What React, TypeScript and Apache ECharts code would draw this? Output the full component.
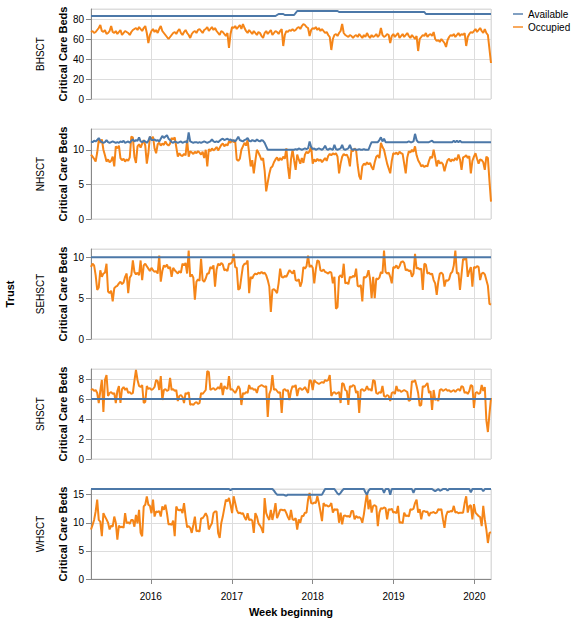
import { useEffect, useRef } from "react";
import * as echarts from "echarts";

// weekly data, weeks beginning Monday 2015-04-06 ... 2020-03-16
const firstWeek = Date.UTC(2015, 3, 6);
const lastWeek = Date.UTC(2020, 2, 16);
const weekMs = 7 * 24 * 3600 * 1000;

const trusts = ["BHSCT", "NHSCT", "SEHSCT", "SHSCT", "WHSCT"];
const yearTicks = [2016, 2017, 2018, 2019, 2020];
const yMax = [90, 13, 11, 9, 16];
const yStep = [20, 5, 5, 2, 5];
const yTicks = [
  [0, 20, 40, 60, 80],
  [0, 5, 10],
  [0, 5, 10],
  [0, 2, 4, 6, 8],
  [0, 5, 10, 15],
];

const bhsctAvailable = [
  83, 83, 83, 83, 83, 83, 83, 83, 83, 83,
  83, 83, 83, 83, 83, 83, 83, 83, 83, 83,
  83, 83, 83, 83, 83, 83, 83, 83, 83, 83,
  83, 83, 83, 83, 83, 83, 83, 83, 83, 83,
  83, 83, 83, 83, 83, 83, 83, 83, 83, 83,
  83, 83, 83, 83, 83, 83, 83, 83, 83, 83,
  83, 83, 83, 83, 83, 83, 83, 83, 83, 83,
  83, 83, 83, 83, 83, 83, 83, 83, 83, 83,
  83, 83, 83, 83, 83, 83, 83, 83, 83, 83,
  83, 83, 83, 83, 83, 83, 83, 83, 83, 83,
  83, 83, 83, 83, 83, 83, 83, 83, 83, 83,
  83, 83, 83, 83, 83, 83, 83, 83, 83, 83,
  84, 85, 85, 85, 85, 84, 84, 84, 84, 84,
  84, 84, 86, 88, 88, 88, 88, 88, 88, 88,
  88, 88, 88, 88, 88, 88, 88, 88, 88, 88,
  88, 88, 88, 88, 88, 88, 88, 88, 88, 88,
  87, 87, 87, 87, 87, 87, 87, 87, 87, 87,
  87, 87, 87, 87, 87, 87, 87, 87, 87, 87,
  87, 87, 87, 87, 87, 87, 87, 87, 87, 87,
  87, 87, 87, 87, 87, 87, 87, 87, 87, 87,
  87, 87, 87, 87, 87, 87, 87, 87, 87, 87,
  87, 87, 87, 87, 87, 87, 85, 85, 85, 85,
  85, 85, 85, 85, 85, 85, 85, 85, 85, 85,
  85, 85, 85, 85, 85, 85, 85, 85, 85, 85,
  85, 85, 85, 85, 85, 85, 85, 85, 85, 85,
  85, 85, 85, 85, 85, 85, 85, 85, 85,
];

const bhsctOccupied = [
  67, 68, 66, 67, 69, 71, 74, 68, 67, 69,
  65, 66, 68, 73, 67, 66, 68, 65, 67, 69,
  64, 66, 68, 67, 66, 64, 67, 69, 70, 71,
  69, 72, 70, 68, 71, 73, 66, 56, 64, 68,
  70, 67, 69, 66, 70, 73, 68, 66, 64, 62,
  60, 62, 64, 66, 67, 65, 68, 70, 66, 64,
  67, 69, 66, 64, 61, 65, 67, 68, 66, 69,
  70, 68, 66, 69, 70, 72, 68, 70, 72, 69,
  71, 68, 66, 64, 68, 67, 65, 63, 66, 51,
  65, 72, 71, 73, 70, 72, 74, 70, 75, 71,
  68, 66, 69, 67, 65, 68, 66, 64, 67, 66,
  63, 61, 66, 68, 65, 67, 69, 64, 66, 68,
  67, 65, 68, 70, 53, 64, 68, 67, 69, 68,
  70, 68, 69, 71, 72, 70, 73, 75, 74, 72,
  71, 63, 69, 71, 70, 72, 69, 71, 68, 70,
  68, 66, 67, 64, 62, 49, 60, 64, 65, 63,
  66, 68, 75, 66, 64, 63, 62, 64, 63, 61,
  63, 64, 62, 65, 63, 61, 64, 62, 66, 63,
  61, 64, 62, 63, 65, 62, 64, 71, 64, 62,
  63, 65, 64, 56, 63, 65, 62, 64, 66, 61,
  63, 65, 62, 64, 66, 63, 61, 64, 62, 60,
  63, 48, 60, 62, 64, 63, 66, 62, 64, 65,
  63, 67, 60, 58, 59, 57, 60, 58, 56, 52,
  59, 62, 64, 63, 65, 62, 64, 66, 63, 65,
  64, 66, 53, 62, 65, 67, 66, 68, 70, 67,
  69, 71, 68, 66, 70, 66, 64, 50, 36,
];

const nhsctAvailable = [
  11.2, 11.1, 11.3, 11.2, 11.4, 11.7, 11.3, 11.1, 11.0, 11.1,
  11.4, 11.1, 11.0, 11.1, 11.2, 11.1, 11.0, 11.1, 11.0, 11.2,
  11.1, 11.3, 11.0, 11.1, 11.2, 11.0, 11.3, 11.5, 11.2, 11.4,
  11.3, 11.8, 11.2, 11.1, 11.3, 11.2, 11.0, 11.3, 11.9, 11.4,
  11.4, 11.5, 11.3, 11.4, 11.2, 11.6, 12.0, 11.7, 11.9, 12.1,
  11.6, 11.4, 11.1, 11.0, 11.2, 11.1, 11.0, 11.1, 11.2, 11.0,
  11.1, 11.2, 11.0, 12.5, 11.2, 11.1, 11.0, 11.1, 11.1, 11.0,
  11.1, 11.0, 11.1, 11.2, 11.1, 11.0, 11.1, 11.2, 11.5, 11.2,
  11.1, 11.2, 11.1, 11.3, 11.5, 11.6, 11.4, 11.5, 11.6, 11.4,
  11.5, 11.3, 11.4, 11.2, 11.5, 11.9, 11.4, 11.3, 11.2, 11.4,
  11.5, 11.7, 11.3, 11.2, 11.4, 11.3, 11.2, 11.5, 11.3, 11.2,
  11.4, 11.3, 11.0, 10.5, 10.0, 10.0, 10.0, 10.0, 10.0, 10.0,
  10.0, 10.0, 10.0, 10.0, 10.0, 10.0, 10.0, 10.0, 10.0, 10.0,
  10.0, 10.0, 10.1, 10.0, 10.2, 10.1, 10.0, 10.1, 10.2, 10.1,
  10.2, 11.2, 10.4, 10.1, 10.2, 10.0, 10.1, 10.2, 10.1, 10.0,
  10.2, 10.6, 10.1, 10.0, 10.2, 10.1, 10.0, 10.7, 10.1, 10.0,
  10.1, 10.2, 10.7, 10.1, 10.0, 10.1, 10.2, 10.7, 10.1, 10.0,
  10.1, 10.0, 10.0, 10.1, 10.0, 10.0, 10.1, 10.0, 10.0, 10.0,
  10.6, 11.1, 11.1, 11.1, 11.1, 11.1, 11.4, 11.8, 11.2, 11.6,
  11.1, 11.1, 11.1, 11.1, 11.1, 11.1, 11.1, 11.1, 11.1, 11.1,
  11.1, 11.1, 11.1, 11.1, 11.1, 11.2, 11.1, 11.1, 11.2, 12.3,
  11.4, 11.1, 11.1, 11.1, 11.1, 11.1, 11.1, 11.1, 11.1, 11.2,
  11.3, 11.1, 11.1, 11.1, 11.1, 11.1, 11.1, 11.1, 11.1, 11.1,
  11.1, 11.1, 11.1, 11.1, 11.3, 11.1, 11.3, 11.1, 11.3, 11.1,
  11.1, 11.1, 11.1, 11.1, 11.1, 11.1, 11.1, 11.1, 11.1, 11.1,
  11.1, 11.1, 11.1, 11.1, 11.1, 11.1, 11.1, 11.1, 11.1,
];

const nhsctOccupied = [
  9.3, 9.0, 8.7, 8.3, 9.6, 11.4, 11.0, 11.5, 10.0, 9.2,
  8.3, 8.6, 8.2, 8.4, 9.0, 7.6, 10.5, 10.2, 10.6, 8.8,
  8.5, 8.7, 8.3, 8.6, 8.4, 8.9, 11.9, 11.8, 9.0, 8.1,
  10.5, 10.8, 10.3, 10.9, 11.4, 10.6, 8.0, 9.5, 11.9, 11.5,
  11.9, 10.2, 9.5, 10.8, 11.0, 10.6, 10.9, 10.7, 11.2, 10.8,
  10.6, 10.9, 11.7, 11.5, 11.8, 10.4, 9.0, 9.5, 9.2, 9.1,
  9.4, 9.2, 11.4, 9.0, 9.8, 9.6, 9.4, 9.7, 9.5, 9.8,
  9.6, 9.3, 9.7, 8.8, 10.0, 7.6, 10.1, 9.8, 10.2, 9.9,
  10.1, 10.4, 9.9, 10.3, 10.7, 10.9, 10.5, 10.8, 10.6, 11.2,
  11.0, 11.4, 11.1, 11.3, 8.6, 8.4, 8.7, 10.0, 10.5, 11.0,
  10.6, 11.4, 9.5, 7.6, 8.5, 6.6, 8.4, 10.0, 9.6, 9.1,
  8.5, 8.8, 7.0, 4.0, 5.3, 6.5, 7.4, 7.6, 8.2, 8.6,
  8.9, 8.4, 8.8, 8.5, 9.0, 8.7, 10.2, 7.6, 5.8, 8.6,
  10.0, 8.5, 7.1, 9.3, 8.6, 8.0, 8.8, 8.1, 9.3, 9.7,
  9.5, 9.8, 10.5, 8.0, 8.6, 8.3, 8.7, 8.4, 8.6, 8.2,
  8.5, 8.8, 8.4, 9.1, 9.4, 9.2, 9.5, 9.3, 9.5, 9.0,
  6.6, 8.0, 9.0, 9.4, 9.2, 9.3, 8.8, 7.6, 10.0, 9.8,
  10.2, 9.9, 7.8, 6.2, 5.7, 7.6, 8.0, 7.8, 8.2, 7.9,
  8.1, 7.5, 7.1, 8.2, 9.0, 9.2, 8.8, 11.0, 10.4, 10.0,
  9.0, 8.0, 7.3, 6.6, 8.4, 9.5, 9.4, 9.6, 9.3, 9.7,
  9.5, 9.4, 8.0, 6.6, 8.9, 9.8, 9.6, 10.0, 9.7, 10.5,
  9.2, 8.5, 8.1, 7.6, 7.8, 7.5, 7.7, 7.6, 8.4, 9.0,
  8.8, 10.0, 8.9, 7.6, 8.5, 8.0, 8.2, 7.9, 6.9, 7.8,
  8.5, 8.7, 8.3, 8.6, 8.4, 8.8, 8.5, 9.3, 8.6, 7.1,
  8.9, 9.0, 9.2, 8.8, 9.1, 6.6, 8.4, 9.0, 9.5, 8.7,
  8.0, 8.6, 8.5, 8.2, 7.1, 9.0, 8.8, 5.5, 2.5,
];

const sehsctAvailable = [
  10, 10, 10, 10, 10, 10, 10, 10, 10, 10,
  10, 10, 10, 10, 10, 10, 10, 10, 10, 10,
  10, 10, 10, 10, 10, 10, 10, 10, 10, 10,
  10, 10, 10, 10, 10, 10, 10, 10, 10, 10,
  10, 10, 10, 10, 10, 10, 10, 10, 10, 10,
  10, 10, 10, 10, 10, 10, 10, 10, 10, 10,
  10, 10, 10, 10, 10, 10, 10, 10, 10, 10,
  10, 10, 10, 10, 10, 10, 10, 10, 10, 10,
  10, 10, 10, 10, 10, 10, 10, 10, 10, 10,
  10, 10, 10, 10, 10, 10, 10, 10, 10, 10,
  10, 10, 10, 10, 10, 10, 10, 10, 10, 10,
  10, 10, 10, 10, 10, 10, 10, 10, 10, 10,
  10, 10, 10, 10, 10, 10, 10, 10, 10, 10,
  10, 10, 10, 10, 10, 10, 10, 10, 10, 10,
  10, 10, 10, 10, 10, 10, 10, 10, 10, 10,
  10, 10, 10, 10, 10, 10, 10, 10, 10, 10,
  10, 10, 10, 10, 10, 10, 10, 10, 10, 10,
  10, 10, 10, 10, 10, 10, 10, 10, 10, 10,
  10, 10, 10, 10, 10, 10, 10, 10, 10, 10,
  10, 10, 10, 10, 10, 10, 10, 10, 10, 10,
  10, 10, 10, 10, 10, 10, 10, 10, 10, 10,
  10, 10, 10, 10, 10, 10, 10, 10, 10, 10,
  10, 10, 10, 10, 10, 10, 10, 10, 10, 10,
  10, 10, 10, 10, 10, 10, 10, 10, 10, 10,
  10, 10, 10, 10, 10, 10, 10, 10, 10, 10,
  10, 10, 10, 10, 10, 10, 10, 10, 10,
];

const sehsctOccupied = [
  8.8, 9.2, 9.0, 7.8, 6.0, 6.3, 8.4, 7.6, 8.0, 8.1,
  9.2, 5.8, 5.6, 5.9, 4.6, 6.2, 6.4, 6.5, 6.8, 7.0,
  6.7, 6.9, 7.6, 8.0, 5.6, 7.5, 7.8, 9.6, 8.2, 7.9,
  8.1, 7.8, 9.6, 7.2, 9.0, 9.2, 8.9, 8.6, 8.3, 8.7,
  8.4, 8.2, 8.3, 8.0, 10.2, 7.0, 8.3, 9.0, 8.8, 9.1,
  8.6, 8.8, 7.6, 8.7, 8.4, 8.2, 8.0, 8.3, 8.1, 9.2,
  9.0, 9.3, 8.0, 10.8, 7.6, 7.9, 7.5, 4.8, 7.0, 7.3,
  7.1, 9.8, 7.2, 7.0, 7.4, 8.0, 8.0, 8.8, 8.6, 9.0,
  6.4, 8.5, 9.2, 9.0, 9.3, 9.1, 8.4, 8.5, 8.3, 9.2,
  9.2, 9.4, 10.4, 8.8, 8.7, 6.0, 6.2, 7.6, 8.9, 9.2,
  9.2, 9.6, 5.6, 7.6, 7.4, 7.8, 8.0, 7.9, 8.1, 8.0,
  8.2, 8.0, 8.1, 7.8, 7.2, 6.4, 3.3, 6.0, 6.1, 5.9,
  5.6, 6.8, 8.6, 7.6, 7.5, 7.7, 7.6, 8.0, 8.4, 8.2,
  8.0, 8.4, 7.2, 7.1, 7.3, 6.4, 7.0, 8.8, 8.6, 8.9,
  10.2, 8.8, 9.0, 8.7, 6.8, 8.5, 9.6, 9.5, 8.4, 8.3,
  8.5, 8.2, 8.1, 8.0, 8.2, 8.1, 6.8, 7.6, 3.7, 3.9,
  7.6, 7.8, 7.5, 9.2, 6.8, 6.9, 6.7, 7.6, 7.5, 7.7,
  7.6, 8.6, 6.5, 6.4, 6.6, 4.6, 7.6, 7.5, 7.7, 8.4,
  7.3, 5.0, 7.6, 5.0, 7.4, 7.3, 7.5, 8.2, 8.0, 10.8,
  8.2, 8.0, 8.1, 7.6, 6.8, 8.8, 8.7, 9.0, 8.6, 8.9,
  9.4, 9.5, 9.3, 8.4, 8.5, 8.3, 8.4, 7.6, 8.0, 10.4,
  8.6, 8.7, 8.5, 8.6, 6.0, 9.2, 9.1, 8.0, 8.1, 7.9,
  8.0, 7.2, 6.8, 5.4, 7.0, 8.0, 8.1, 7.9, 6.4, 7.2,
  7.1, 7.3, 8.0, 8.2, 9.0, 10.8, 8.0, 8.1, 6.0, 7.9,
  9.8, 9.7, 9.9, 7.6, 8.3, 8.8, 6.4, 8.8, 8.7, 8.9,
  8.8, 7.2, 8.0, 8.1, 7.9, 7.2, 6.5, 4.3, 4.2,
];

const shsctAvailable = [
  6, 6, 6, 6, 6, 6, 6, 6, 6, 6,
  6, 6, 6, 6, 6, 6, 6, 6, 6, 6,
  6, 6, 6, 6, 6, 6, 6, 6, 6, 6,
  6, 6, 6, 6, 6, 6, 6, 6, 6, 6,
  6, 6, 6, 6, 6, 6, 6, 6, 6, 6,
  6, 6, 6, 6, 6, 6, 6, 6, 6, 6,
  6, 6, 6, 6, 6, 6, 6, 6, 6, 6,
  6, 6, 6, 6, 6, 6, 6, 6, 6, 6,
  6, 6, 6, 6, 6, 6, 6, 6, 6, 6,
  6, 6, 6, 6, 6, 6, 6, 6, 6, 6,
  6, 6, 6, 6, 6, 6, 6, 6, 6, 6,
  6, 6, 6, 6, 6, 6, 6, 6, 6, 6,
  6, 6, 6, 6, 6, 6, 6, 6, 6, 6,
  6, 6, 6, 6, 6, 6, 6, 6, 6, 6,
  6, 6, 6, 6, 6, 6, 6, 6, 6, 6,
  6, 6, 6, 6, 6, 6, 6, 6, 6, 6,
  6, 6, 6, 6, 6, 6, 6, 6, 6, 6,
  6, 6, 6, 6, 6, 6, 6, 6, 6, 6,
  6, 6, 6, 6, 6, 6, 6, 6, 6, 6,
  6, 6, 6, 6, 6, 6, 6, 6, 6, 6,
  6, 6, 6, 6, 6, 6, 6, 6, 6, 6,
  6, 6, 6, 6, 6, 6, 6, 6, 6, 6,
  6, 6, 6, 6, 6, 6, 6, 6, 6, 6,
  6, 6, 6, 6, 6, 6, 6, 6, 6, 6,
  6, 6, 6, 6, 6, 6, 6, 6, 6, 6,
  6, 6, 6, 6, 6, 6, 6, 6, 6,
];

const shsctOccupied = [
  6.9, 7.0, 6.8, 6.9, 6.6, 5.6, 6.8, 7.9, 4.7, 7.9,
  8.4, 6.3, 6.6, 6.7, 6.5, 6.6, 5.6, 6.8, 7.3, 5.6,
  7.0, 7.2, 6.9, 7.1, 6.6, 6.7, 6.5, 6.6, 7.8, 8.9,
  7.9, 7.3, 7.2, 7.4, 5.6, 5.7, 7.3, 7.0, 7.1, 6.9,
  7.0, 7.2, 7.9, 7.8, 6.9, 8.3, 5.9, 6.9, 7.0, 6.8,
  6.9, 8.1, 6.9, 7.0, 6.8, 6.9, 5.8, 6.3, 6.4, 6.2,
  5.6, 6.6, 6.5, 6.7, 5.4, 5.5, 5.4, 5.6, 5.7, 5.5,
  5.6, 6.6, 6.5, 6.7, 6.9, 8.8, 8.7, 6.9, 7.0, 7.1,
  6.9, 7.0, 7.2, 7.0, 7.6, 6.4, 7.3, 7.1, 7.0, 8.3,
  6.9, 7.0, 6.8, 6.6, 6.9, 7.3, 7.0, 5.4, 6.6, 6.5,
  6.7, 6.6, 7.4, 7.0, 7.1, 6.9, 7.0, 6.6, 7.2, 7.3,
  7.4, 7.3, 7.2, 7.3, 4.2, 6.5, 6.9, 8.4, 6.9, 7.0,
  6.8, 6.6, 6.7, 4.6, 6.9, 7.0, 6.8, 6.9, 5.9, 6.8,
  7.3, 7.2, 7.4, 6.3, 7.0, 7.1, 6.9, 7.0, 7.2, 6.9,
  6.6, 7.9, 7.8, 6.9, 7.9, 7.7, 7.6, 7.5, 7.6, 7.7,
  7.6, 7.9, 7.8, 7.9, 8.4, 6.3, 6.6, 6.7, 6.5, 6.6,
  6.7, 5.6, 7.6, 7.5, 6.9, 6.8, 5.4, 7.3, 7.2, 7.4,
  7.3, 6.6, 6.8, 4.6, 6.9, 7.0, 6.8, 6.9, 7.3, 6.9,
  7.0, 6.8, 7.9, 7.8, 6.6, 6.5, 6.7, 6.6, 7.3, 6.3,
  6.2, 6.4, 6.3, 5.8, 6.6, 6.7, 6.5, 7.3, 6.8, 6.9,
  6.7, 6.8, 6.9, 6.8, 6.7, 5.8, 5.9, 7.8, 7.7, 7.9,
  7.3, 6.6, 5.3, 5.4, 7.3, 7.2, 7.4, 7.6, 6.6, 6.8,
  4.9, 6.9, 5.9, 6.0, 5.8, 6.9, 7.0, 6.8, 6.9, 7.0,
  6.8, 6.9, 6.7, 6.8, 6.9, 6.7, 6.9, 7.0, 6.8, 7.3,
  7.2, 6.6, 6.7, 6.5, 6.8, 7.4, 7.3, 5.1, 6.6, 6.7,
  6.5, 6.6, 7.4, 6.8, 7.2, 3.9, 2.7, 4.5, 6.1,
];

const whsctAvailable = [
  16, 16, 16, 16, 16, 16, 16, 16, 16, 16,
  16, 16, 16, 16, 16, 16, 16, 16, 16, 16,
  16, 16, 16, 16, 16, 16, 16, 16, 16, 16,
  16, 16, 16, 16, 16, 16, 16, 16, 16, 16,
  16, 16, 16, 16, 16, 16, 16, 16, 16, 16,
  16, 16, 16, 16, 16, 16, 16, 16, 16, 16,
  16, 16, 16, 16, 16, 16, 16, 16, 16, 16,
  16, 16, 16, 16, 16, 16, 16, 16, 16, 16,
  16, 16, 16, 16, 16, 16, 16, 16, 16, 16,
  15.8, 16, 16, 16, 16, 16, 16, 16, 16, 16,
  16, 16, 16, 16, 16, 16, 16, 16, 16, 16,
  16, 16, 16, 16, 16, 16, 16, 16, 15.7, 15.3,
  15, 15, 15, 15, 15, 14.9, 14.8, 15, 15, 15,
  15, 15, 15, 15, 15, 15, 15, 15, 15, 15,
  15, 15, 15, 15, 15, 15, 15, 15, 15, 15,
  15.5, 16, 16, 16, 16, 16, 16, 16, 15.6, 15.2,
  15, 15.3, 15.7, 16, 16, 16, 16, 16, 16, 16,
  16, 16, 16, 16, 16, 16, 16, 15.4, 15, 15.7,
  16, 16, 16, 16, 16, 16, 16, 16, 16, 15.3,
  16, 16, 16, 15, 16, 16, 16, 16, 16, 16,
  16, 16, 16, 16, 16, 16, 16, 16, 15.3, 16,
  16, 16, 16, 16, 16, 16, 16, 16, 16, 16,
  16, 15.8, 15.6, 15.8, 16, 15.7, 15.8, 16, 16, 16,
  15.7, 16, 16, 16, 16, 16, 16, 16, 16, 16,
  16, 16, 16, 16, 16, 15.4, 16, 16, 16, 16,
  16, 16, 16, 15.6, 16, 16, 16, 16, 16,
];

const whsctOccupied = [
  8.8, 9.6, 10.5, 12.0, 14.1, 10.5, 10.2, 7.6, 11.7, 11.1,
  10.6, 10.0, 8.8, 9.5, 9.3, 11.1, 10.0, 7.0, 9.5, 9.2,
  9.3, 9.1, 11.7, 9.9, 10.1, 9.8, 10.5, 10.5, 9.3, 11.4,
  9.9, 12.3, 8.2, 7.6, 12.9, 13.2, 14.7, 13.2, 13.0, 11.7,
  14.1, 11.1, 12.0, 11.9, 12.1, 11.1, 12.9, 12.3, 13.2, 11.7,
  9.7, 9.8, 9.6, 10.4, 7.6, 12.9, 12.3, 12.2, 12.4, 11.7,
  13.5, 11.1, 9.2, 9.4, 9.1, 8.2, 9.6, 11.1, 8.5, 8.6,
  8.4, 10.8, 10.8, 11.2, 11.7, 11.1, 8.8, 9.4, 9.9, 11.7,
  12.0, 12.0, 8.2, 7.3, 9.9, 11.1, 12.6, 14.1, 13.8, 14.4,
  13.2, 11.7, 14.7, 13.5, 12.3, 11.7, 11.8, 11.6, 11.7, 11.0,
  10.5, 11.7, 10.5, 10.6, 10.4, 8.2, 11.7, 11.1, 9.9, 9.5,
  9.0, 8.2, 14.4, 11.7, 11.0, 10.5, 12.3, 10.5, 11.8, 13.5,
  10.8, 11.5, 12.3, 12.3, 12.2, 12.3, 11.7, 11.0, 10.5, 12.3,
  10.6, 10.5, 10.8, 8.8, 10.6, 10.0, 11.2, 11.2, 11.8, 11.8,
  14.1, 15.3, 13.5, 13.4, 13.6, 13.5, 14.7, 13.5, 12.0, 10.3,
  13.5, 13.0, 13.1, 12.9, 13.0, 13.5, 11.8, 12.4, 12.3, 12.4,
  10.0, 11.8, 9.7, 11.2, 11.3, 11.1, 11.2, 11.0, 12.1, 12.1,
  10.6, 11.2, 10.9, 11.0, 10.8, 10.0, 11.5, 13.5, 15.3, 12.4,
  14.1, 11.8, 13.0, 13.1, 12.9, 9.4, 11.8, 12.6, 12.5, 12.7,
  12.6, 10.6, 12.4, 12.3, 12.5, 11.8, 11.9, 11.7, 13.0, 10.0,
  10.1, 9.9, 11.8, 11.2, 11.3, 11.1, 12.4, 12.3, 12.5, 13.5,
  14.1, 11.8, 12.4, 10.6, 12.0, 12.1, 11.9, 12.0, 11.2, 11.8,
  11.8, 11.9, 11.7, 11.8, 12.4, 12.3, 12.4, 10.6, 9.1, 11.2,
  12.0, 11.9, 12.1, 12.0, 13.0, 11.8, 11.9, 11.7, 11.8, 11.8,
  11.8, 13.5, 14.7, 11.8, 13.0, 13.1, 10.6, 13.3, 11.8, 11.5,
  11.2, 11.0, 9.4, 13.0, 10.6, 8.8, 6.4, 8.2, 8.3,
];

const availableByTrust = [bhsctAvailable, nhsctAvailable, sehsctAvailable, shsctAvailable, whsctAvailable];
const occupiedByTrust = [bhsctOccupied, nhsctOccupied, sehsctOccupied, shsctOccupied, whsctOccupied];

const AVAILABLE_COLOR = "#4c78a8";
const OCCUPIED_COLOR = "#f58518";
const FONT = "Liberation Sans, Arial, Helvetica, sans-serif";

// panel layout
const PLOT_LEFT = 91;
const PLOT_WIDTH = 400;
const PANEL_TOP = 9;
const PANEL_HEIGHT = 90;
const PANEL_STEP = 120;
const YEAR_MS = 365 * 24 * 3600 * 1000;

const toPoints = (values: number[]) =>
  values.map((v, i) => [firstWeek + i * weekMs, v]);

const yearLabels = new Set(yearTicks.map(String));

const buildOption = (): echarts.EChartsOption => {
  const last = trusts.length - 1;

  const grid = trusts.map((_, k) => ({
    left: PLOT_LEFT,
    top: PANEL_TOP + PANEL_STEP * k,
    width: PLOT_WIDTH,
    height: PANEL_HEIGHT,
    show: true,
    borderColor: "#ddd",
    borderWidth: 1,
    backgroundColor: "transparent",
  }));

  const xAxis = trusts.map((_, k) => ({
    type: "time",
    gridIndex: k,
    min: firstWeek,
    max: lastWeek,
    minInterval: YEAR_MS,
    offset: k === last ? 6 : 0,
    name: k === last ? "Week beginning" : "",
    nameLocation: "middle",
    nameGap: 21,
    nameTextStyle: { fontSize: 11, fontWeight: "bold", color: "#000", fontFamily: FONT },
    axisLine: { show: k === last, lineStyle: { color: "#888", width: 1 } },
    axisTick: { show: k === last, length: 5, lineStyle: { color: "#888" } },
    axisLabel: {
      show: k === last,
      showMinLabel: false,
      showMaxLabel: false,
      formatter: (v: number) => {
        const year = String(new Date(v).getUTCFullYear());
        return yearLabels.has(year) ? year : "";
      },
      fontSize: 10,
      color: "#000",
      margin: 6,
      fontFamily: FONT,
    },
    splitLine: { show: true, lineStyle: { color: "#ddd", width: 1 } },
  }));

  const yAxis = trusts.map((_, k) => ({
    type: "value",
    gridIndex: k,
    min: 0,
    max: yMax[k],
    interval: yStep[k],
    name: "Critical Care Beds",
    nameLocation: "middle",
    nameGap: 23,
    nameMoveOverlap: false,
    nameTextStyle: { fontSize: 11, fontWeight: "bold", color: "#000", fontFamily: FONT },
    axisLine: { show: true, lineStyle: { color: "#888", width: 1 } },
    axisTick: { show: true, length: 5, lineStyle: { color: "#888" } },
    axisLabel: {
      showMaxLabel: false,
      formatter: (v: number) => (yTicks[k].includes(v) ? String(v) : ""),
      fontSize: 10,
      color: "#000",
      margin: 7,
      fontFamily: FONT,
    },
    splitLine: { show: true, lineStyle: { color: "#ddd", width: 1 } },
  }));

  const series = trusts.flatMap((_, k) => [
    {
      type: "line",
      name: "Occupied",
      xAxisIndex: k,
      yAxisIndex: k,
      data: toPoints(occupiedByTrust[k]),
      showSymbol: false,
      symbol: "none",
      silent: true,
      z: 2,
      lineStyle: { width: 2, color: OCCUPIED_COLOR },
      itemStyle: { color: OCCUPIED_COLOR },
    },
    {
      type: "line",
      name: "Available",
      xAxisIndex: k,
      yAxisIndex: k,
      data: toPoints(availableByTrust[k]),
      showSymbol: false,
      symbol: "none",
      silent: true,
      z: 3,
      lineStyle: { width: 2, color: AVAILABLE_COLOR },
      itemStyle: { color: AVAILABLE_COLOR },
    },
  ]);

  const rowLabels = trusts.map((name, k) => ({
    type: "text",
    x: 40,
    y: PANEL_TOP + PANEL_STEP * k + PANEL_HEIGHT / 2,
    rotation: Math.PI / 2,
    style: {
      text: name,
      fontSize: 10,
      fontFamily: FONT,
      fill: "#000",
      align: "center",
      verticalAlign: "middle",
    },
  }));

  const legendItems = [
    { label: "Available", color: AVAILABLE_COLOR },
    { label: "Occupied", color: OCCUPIED_COLOR },
  ].flatMap((item, k) => [
    {
      type: "line",
      shape: { x1: 513, y1: 14 + 13 * k, x2: 523, y2: 14 + 13 * k },
      style: { stroke: item.color, lineWidth: 2, opacity: 0.7 },
    },
    {
      type: "text",
      x: 528,
      y: 14 + 13 * k,
      style: {
        text: item.label,
        fontSize: 10,
        fontFamily: FONT,
        fill: "#000",
        align: "left",
        verticalAlign: "middle",
      },
    },
  ]);

  return {
    animation: false,
    useUTC: true,
    backgroundColor: "#fff",
    textStyle: { fontFamily: FONT },
    grid,
    xAxis,
    yAxis,
    series,
    graphic: [
      {
        type: "text",
        x: 10,
        y: PANEL_TOP + (PANEL_STEP * last + PANEL_HEIGHT) / 2,
        rotation: Math.PI / 2,
        style: {
          text: "Trust",
          fontSize: 11,
          fontWeight: "bold",
          fontFamily: FONT,
          fill: "#000",
          align: "center",
          verticalAlign: "middle",
        },
      },
      ...rowLabels,
      ...legendItems,
    ],
  } as echarts.EChartsOption;
};

const App = () => {
  const chartRef = useRef<HTMLDivElement | null>(null);

  useEffect(() => {
    document.body.style.margin = "0";
    if (!chartRef.current) {
      return;
    }
    const instance = echarts.init(chartRef.current, undefined, {
      renderer: "svg",
    });
    instance.setOption(buildOption());

    return () => {
      instance.dispose();
    };
  }, []);

  return <div ref={chartRef} style={{ width: 576, height: 622 }} />;
};

export default App;
